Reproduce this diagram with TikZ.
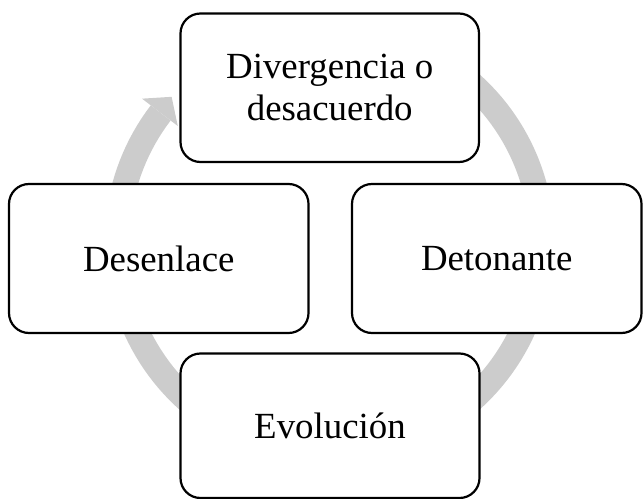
\documentclass[tikz,border=0pt]{standalone}
\usepackage{fontspec}
\setmainfont{Liberation Serif}
\begin{document}
\begin{tikzpicture}[x=1bp,y=-1bp,
  stage/.style={draw=black, line width=2.2bp, fill=white, rounded corners=20bp,
    align=center, font=\fontsize{37}{42}\selectfont, inner sep=0pt},
  ringfill/.style={fill=black!20, draw=none}]
\useasboundingbox (0,0) rectangle (643,499);
% circular arrow shaft
\fill[ringfill] plot[domain=-80:217.4, samples=150] ({329.5+225*cos(\x)},{242+225*sin(\x)})
  -- plot[domain=217.4:-80, samples=150] ({329.5+200*cos(\x)},{242+200*sin(\x)}) -- cycle;
% arrow head
\coordinate (hout) at ({329.5+236*cos(217.4)},{242+236*sin(217.4)});
\coordinate (htip) at ({329.5+214.5*cos(222.6)},{242+214.5*sin(222.6)});
\coordinate (hin) at ({329.5+191*cos(217.4)},{242+191*sin(217.4)});
\fill[ringfill] (hout) -- (htip) -- (hin) -- cycle;
% stages
\node[stage, minimum width=298.5bp, minimum height=148.5bp] (div) at (329.75,87.75) {Divergencia o\\desacuerdo};
\node[stage, minimum width=299.5bp, minimum height=149bp] (des) at (158.75,258.5) {Desenlace};
\node[stage, minimum width=289.5bp, minimum height=149bp] (det) at (496.75,258.5) {Detonante};
\node[stage, minimum width=299bp, minimum height=144.5bp] (evo) at (330,425.75) {Evolución};
\end{tikzpicture}
\end{document}
